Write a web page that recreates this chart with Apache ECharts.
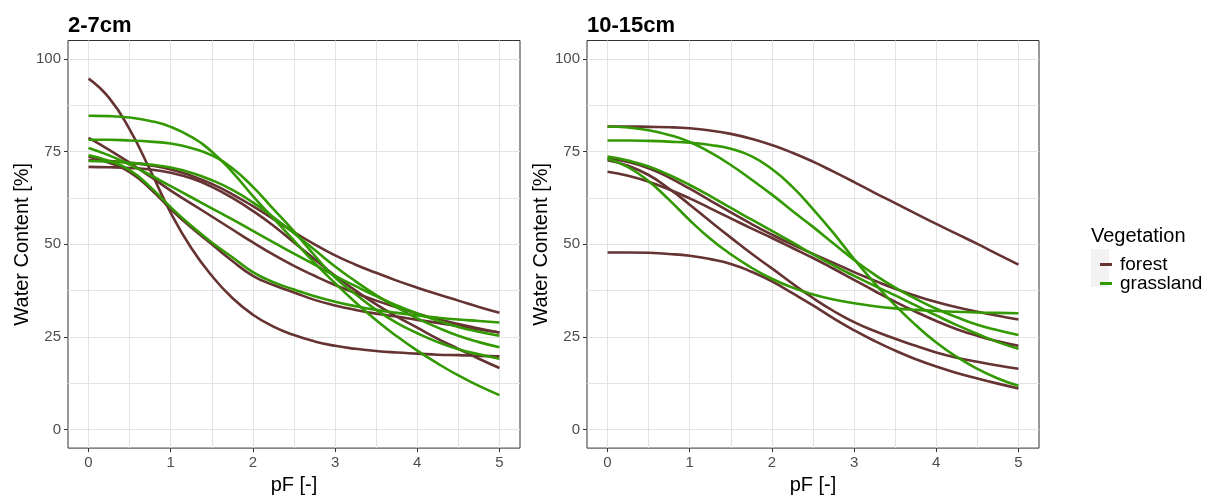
<!DOCTYPE html>
<html>
<head>
<meta charset="utf-8">
<script src="https://cdn.jsdelivr.net/npm/echarts@6/dist/echarts.min.js"></script>
<style>
html,body{margin:0;padding:0;background:#fff;}
#chart{width:1215px;height:500px;}
</style>
</head>
<body>
<div id="chart"></div>
<script>
// pF values (x) at which each curve is read
const pF = [0,0.25,0.5,0.75,1,1.25,1.5,1.75,2,2.25,2.5,2.75,3,3.25,3.5,3.75,4,4.25,4.5,4.75,5];
const xTicks = [0,1,2,3,4,5];
const xGridVals = [0,0.5,1,1.5,2,2.5,3,3.5,4,4.5,5];
const yTicks = [0,25,50,75,100];
const yGridVals = [0,12.5,25,37.5,50,62.5,75,87.5,100];
const panelTitles = ['2-7cm','10-15cm'];
const categories = ['forest','grassland'];

// 2-7cm forest
const f27_1 = [94.7,89.5,81.0,70.0,58.5,49.0,41.5,35.5,31.0,27.8,25.5,23.8,22.6,21.8,21.2,20.8,20.5,20.2,20.1,19.9,19.8];
const f27_2 = [78.7,75.5,72.0,68.3,64.5,61.0,57.5,54.0,50.5,47.2,44.2,41.5,39.0,36.8,34.8,33.0,31.3,29.8,28.5,27.3,26.2];
const f27_3 = [73.6,72.0,69.5,65.0,59.5,54.5,50.0,45.5,41.5,39.0,37.0,35.0,33.5,32.3,31.3,30.5,29.6,28.8,27.9,27.0,26.2];
const f27_4 = [72.7,72.5,72.0,71.3,70.2,68.5,66.3,63.5,60.3,56.8,53.3,50.0,47.0,44.5,42.3,40.2,38.3,36.5,34.8,33.1,31.5];
const f27_5 = [70.9,70.8,70.6,70.2,69.3,67.8,65.5,62.5,59.0,55.0,50.5,46.0,41.5,37.5,33.8,30.5,27.5,24.5,21.8,19.1,16.6];
// 2-7cm grassland
const g27_1 = [84.7,84.6,84.2,83.3,81.7,79.0,75.0,69.5,63.0,57.0,51.0,45.0,39.5,34.3,29.5,25.2,21.3,17.8,14.6,11.8,9.3];
const g27_2 = [78.2,78.2,78.0,77.7,77.2,76.0,74.0,70.5,65.5,59.5,53.5,47.0,41.0,36.5,32.3,28.8,26.0,23.6,21.7,20.3,19.1];
const g27_3 = [76.0,74.0,71.5,68.7,65.7,62.7,59.7,56.7,53.6,50.5,47.5,44.5,41.5,38.7,36.0,33.5,31.3,29.4,27.7,26.4,25.3];
const g27_4 = [72.5,72.3,72.0,71.5,70.7,69.3,67.3,64.7,61.3,57.3,53.0,48.5,44.0,40.0,36.3,33.0,30.0,27.5,25.3,23.6,22.2];
const g27_5 = [74.0,72.5,70.0,65.5,60.0,55.0,50.5,46.5,42.5,39.8,37.8,36.0,34.5,33.3,32.3,31.5,30.8,30.2,29.7,29.3,28.9];
// 10-15cm forest
const f1015_1 = [81.8,81.8,81.7,81.6,81.3,80.7,79.8,78.5,76.8,74.7,72.3,69.6,66.8,63.9,61.1,58.3,55.5,52.8,50.1,47.3,44.5];
const f1015_2 = [73.2,72.2,70.5,68.0,65.0,61.8,58.6,55.5,52.6,49.9,47.4,45.0,42.5,40.2,38.0,36.1,34.4,33.0,31.8,30.7,29.7];
const f1015_3 = [69.6,68.5,66.9,64.8,62.4,59.7,57.0,54.3,51.7,49.0,46.3,43.4,40.4,37.4,34.5,31.8,29.3,27.1,25.3,23.8,22.6];
const f1015_4 = [72.7,71.2,68.7,65.0,60.7,56.2,51.8,47.5,43.5,39.4,35.5,32.0,29.0,26.6,24.5,22.6,20.8,19.4,18.3,17.3,16.4];
const f1015_5 = [47.8,47.8,47.7,47.4,46.9,46.0,44.7,42.6,40.0,36.8,33.5,30.0,26.8,23.9,21.3,19.0,17.0,15.3,13.8,12.4,11.1];
// 10-15cm grassland
const g1015_1 = [81.8,81.5,80.8,79.5,77.6,74.8,71.4,67.5,63.4,59.0,54.7,50.2,45.8,41.8,38.3,35.3,32.6,30.3,28.3,26.8,25.5];
const g1015_2 = [78.0,78.0,77.9,77.7,77.4,76.8,75.8,73.8,70.3,65.5,59.5,53.0,46.0,39.5,33.5,28.2,23.5,19.6,16.4,13.8,11.8];
const g1015_3 = [73.1,70.8,67.0,62.0,56.5,51.5,47.3,43.7,40.7,38.3,36.5,35.1,34.1,33.3,32.7,32.3,32.0,31.8,31.6,31.5,31.4];
const g1015_4 = [73.7,72.6,71.0,68.7,66.0,63.0,59.8,56.7,53.6,50.5,47.3,44.3,41.5,38.8,36.2,33.5,30.8,28.2,25.8,23.6,21.8];

const panels = [
  {forest:[f27_1,f27_2,f27_3,f27_4,f27_5], grassland:[g27_1,g27_2,g27_3,g27_4,g27_5]},
  {forest:[f1015_1,f1015_2,f1015_3,f1015_4,f1015_5], grassland:[g1015_1,g1015_2,g1015_3,g1015_4]}
];

const COLORS = {forest:'#663333', grassland:'#339900'};
const FONT = "'Liberation Sans', Arial, sans-serif";
const gridLeft = [68, 587];
const GRID_W = 452, GRID_TOP = 40.5, GRID_H = 412.5;

const grids = [], xAxes = [], yAxes = [], series = [], titles = [];
panels.forEach((p, gi) => {
  grids.push({left: gridLeft[gi], top: GRID_TOP, width: GRID_W, height: GRID_H,
    show: true, borderColor: '#333333', borderWidth: 1, backgroundColor: '#ffffff'});
  titles.push({text: panelTitles[gi], left: gridLeft[gi] - 5, top: 10,
    textStyle: {fontFamily: FONT, fontSize: 22, fontWeight: 'bold', color: '#000'}});
  // grid-line axes
  xAxes.push({gridIndex: gi, type: 'value', position: 'top', min: -0.25, max: 5.25,
    axisLine: {show: false, onZero: false}, axisTick: {show: false, customValues: xGridVals},
    axisLabel: {show: false}, splitLine: {show: true, lineStyle: {color: '#E3E3E3', width: 1}}});
  yAxes.push({gridIndex: gi, type: 'value', position: 'right', min: -5, max: 105,
    axisLine: {show: false, onZero: false}, axisTick: {show: false, customValues: yGridVals},
    axisLabel: {show: false}, splitLine: {show: true, lineStyle: {color: '#E3E3E3', width: 1}}});
  // label axes
  xAxes.push({gridIndex: gi, type: 'value', position: 'bottom', min: -0.25, max: 5.25,
    axisLine: {show: false, onZero: false},
    axisTick: {show: true, customValues: xTicks, length: 4, lineStyle: {color: '#333333'}},
    axisLabel: {show: true, customValues: xTicks, margin: 7, fontSize: 15, color: '#4D4D4D', fontFamily: FONT},
    splitLine: {show: false},
    name: 'pF [-]', nameLocation: 'middle', nameGap: 26,
    nameTextStyle: {fontSize: 20, color: '#000', fontFamily: FONT}});
  yAxes.push({gridIndex: gi, type: 'value', position: 'left', min: -5, max: 105,
    axisLine: {show: false, onZero: false},
    axisTick: {show: true, customValues: yTicks, length: 4, lineStyle: {color: '#333333'}},
    axisLabel: {show: true, customValues: yTicks, margin: 7, fontSize: 15, color: '#4D4D4D', fontFamily: FONT},
    splitLine: {show: false},
    name: 'Water Content [%]', nameLocation: 'middle', nameGap: 36, nameRotate: 90,
    nameTextStyle: {fontSize: 20, color: '#000', fontFamily: FONT}});
  categories.forEach(cat => {
    p[cat].forEach(arr => {
      series.push({type: 'line', name: cat, xAxisIndex: gi * 2, yAxisIndex: gi * 2,
        data: pF.map((x, i) => [x, arr[i]]), smooth: true, showSymbol: false, symbol: 'none',
        silent: true, animation: false,
        lineStyle: {width: 2.6, color: COLORS[cat]}, itemStyle: {color: COLORS[cat]}});
    });
  });
});

titles.push({text: 'Vegetation', left: 1086, top: 221,
  textStyle: {fontFamily: FONT, fontSize: 20, fontWeight: 'normal', color: '#000'}});

const chart = echarts.init(document.getElementById('chart'), null, {renderer: 'canvas'});
chart.setOption({
  animation: false,
  backgroundColor: '#ffffff',
  title: titles,
  grid: grids,
  xAxis: xAxes,
  yAxis: yAxes,
  legend: {orient: 'vertical', left: 1095, top: 250, icon: 'rect', itemWidth: 12, itemHeight: 3,
    itemGap: 0, data: categories, selectedMode: false,
    textStyle: {fontFamily: FONT, fontSize: 19, lineHeight: 19, color: '#000', padding: [0, 0, 0, 3]}},
  graphic: [{type: 'rect', left: 1091, top: 249, z: -1, shape: {width: 18, height: 38}, style: {fill: '#F2F2F2'}}],
  series: series
});
</script>
</body>
</html>
